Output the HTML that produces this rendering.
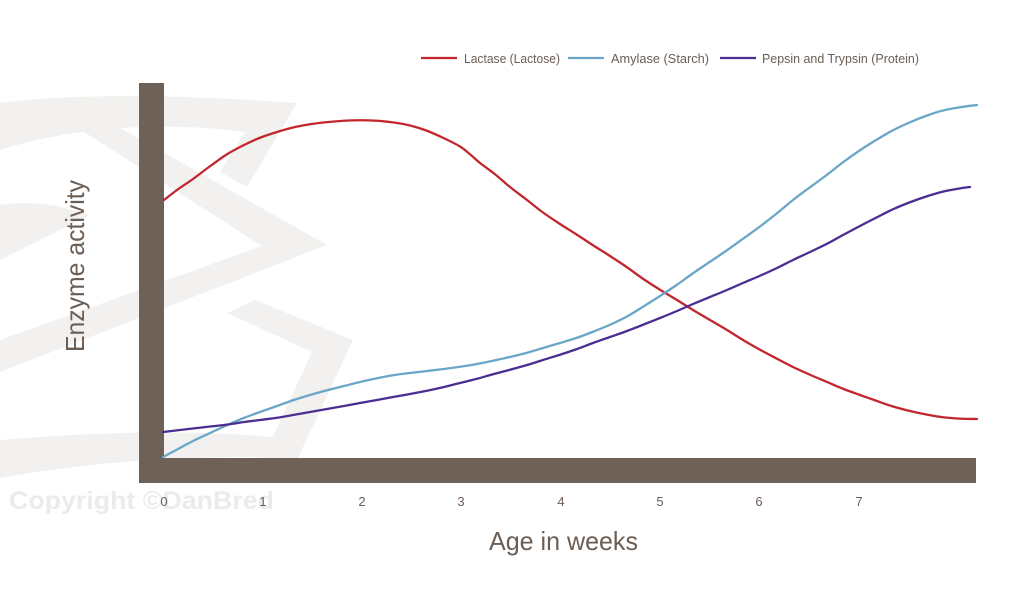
<!DOCTYPE html>
<html>
<head>
<meta charset="utf-8">
<style>
  html,body{margin:0;padding:0;background:#fff;}
  svg{display:block;}
  text{font-family:"Liberation Sans",sans-serif;}
</style>
</head>
<body>
<svg id="chart" width="1024" height="609" viewBox="0 0 1024 609" xmlns="http://www.w3.org/2000/svg">
  <rect width="1024" height="609" fill="#ffffff"/>

  <!-- watermark shapes -->
  <g fill="#f2f1ef">
    <path d="M0,103 C80,92 200,96 297,103 L247,187 L220,172 L245,132 C170,122 80,125 0,150 Z"/>
    <path d="M78,128 L110,122 L327,245 L0,372 L0,340 L262,246 Z"/>
    <path d="M0,205 C30,200 60,205 90,215 L0,260 Z"/>
    <path d="M227,313 L255,300 L353,340 L297,460 L262,460 L312,352 Z"/>
    <path d="M0,440 C100,432 200,428 300,440 L290,458 C200,455 100,460 0,478 Z"/>
  </g>

  <!-- copyright watermark -->
  <text x="9" y="509" font-size="25" font-weight="bold" fill="#ebebeb" textLength="265" lengthAdjust="spacingAndGlyphs">Copyright ©DanBred</text>

  <!-- axes -->
  <rect x="139" y="83" width="25" height="400" fill="#6e6158"/>
  <rect x="139" y="458" width="837" height="25" fill="#6e6158"/>

  <!-- curves -->
  <g id="curves" fill="none" stroke-width="2.3" stroke-linejoin="round" stroke-linecap="round">
    <polyline stroke="#c1272d" points="164,200 177,190 193,180 210,166 227,153 244,145 260,137 277,132 293,127 310,124 327,122 344,120.5 360,120 377,120.5 393,122 410,125 427,130 444,138 460,147 470,154 480,162 495,174 510,187 527,200 543,213 560,224 577,235 593,245 610,256 627,267 643,279 660,290 677,300 693,310 710,320 727,330 743,340 760,350 777,359 793,367 810,375 827,382 843,389 860,395 877,401 893,407 910,411 927,415 943,417.5 960,419 977,419"/>
    <polyline stroke="#6aa6c8" points="163,457 178,449 193,441 210,433 227,425 243,418 260,412 277,406 293,400 310,395 327,390 344,386 360,382 377,378 393,375 410,373 427,371 444,369 460,367 477,364 493,361 510,357 527,353 543,348 560,343 577,338 593,332 610,325 627,317 643,307 660,296 677,285 693,273 710,262 727,250 743,239 760,227 777,213 793,200 810,187 827,175 843,162 860,150 877,139 893,130 910,122 927,115 943,110 960,107 977,105"/>
    <polyline stroke="#4b2e91" points="163,432 195,428.5 227,424 244,422 260,420 277,418 293,415 310,412 327,409 344,406 360,403 377,400 393,397 410,394 427,391 444,387 460,383 477,379 493,374 510,370 527,365 543,360 560,355 577,349 593,343 610,337 627,331 643,325 660,318 677,311 693,304 710,297 727,290 743,283 760,276 777,268 793,260 810,252 827,244 843,235 860,226 877,217 893,209 910,202 927,196 943,191 958,188.5 970,187"/>
  </g>

  <!-- tick labels -->
  <g font-size="13" fill="#6b5e55" text-anchor="middle">
    <text x="164" y="506">0</text>
    <text x="263" y="506">1</text>
    <text x="362" y="506">2</text>
    <text x="461" y="506">3</text>
    <text x="561" y="506">4</text>
    <text x="660" y="506">5</text>
    <text x="759" y="506">6</text>
    <text x="859" y="506">7</text>
  </g>

  <!-- axis titles -->
  <text x="489" y="550" font-size="26" fill="#6b5e55" textLength="149" lengthAdjust="spacingAndGlyphs">Age in weeks</text>
  <text transform="translate(84,352) rotate(-90)" x="0" y="0" font-size="26" fill="#6b5e55" textLength="172" lengthAdjust="spacingAndGlyphs">Enzyme activity</text>

  <!-- legend -->
  <g stroke-width="2.2">
    <line x1="421" y1="58" x2="457" y2="58" stroke="#c1272d"/>
    <line x1="568" y1="58" x2="604" y2="58" stroke="#6aa6c8"/>
    <line x1="720" y1="58" x2="756" y2="58" stroke="#4b2e91"/>
  </g>
  <g font-size="13" fill="#6b5e55">
    <text x="464" y="63" textLength="96" lengthAdjust="spacingAndGlyphs">Lactase (Lactose)</text>
    <text x="611" y="63" textLength="98" lengthAdjust="spacingAndGlyphs">Amylase (Starch)</text>
    <text x="762" y="63" textLength="157" lengthAdjust="spacingAndGlyphs">Pepsin and Trypsin (Protein)</text>
  </g>
</svg>
<script>
(function(){
  try{
    var NS="http://www.w3.org/2000/svg";
    var g=document.getElementById("curves");
    var pls=g.getElementsByTagName("polyline");
    var list=[];
    for(var i=0;i<pls.length;i++) list.push(pls[i]);
    list.forEach(function(pl){
      var raw=pl.getAttribute("points").trim().split(/\s+/).map(function(s){var a=s.split(",");return [parseFloat(a[0]),parseFloat(a[1])];});
      /* light smoothing of y values */
      var p=raw.map(function(pt,idx){
        if(idx===0||idx===raw.length-1) return pt;
        return [pt[0], (raw[idx-1][1]+2*pt[1]+raw[idx+1][1])/4];
      });
      var d="M"+p[0][0]+","+p[0][1];
      for(var k=0;k<p.length-1;k++){
        var p0=p[k-1]||p[k], p1=p[k], p2=p[k+1], p3=p[k+2]||p[k+1];
        var c1x=p1[0]+(p2[0]-p0[0])/6, c1y=p1[1]+(p2[1]-p0[1])/6;
        var c2x=p2[0]-(p3[0]-p1[0])/6, c2y=p2[1]-(p3[1]-p1[1])/6;
        d+=" C"+c1x.toFixed(2)+","+c1y.toFixed(2)+" "+c2x.toFixed(2)+","+c2y.toFixed(2)+" "+p2[0]+","+p2[1];
      }
      var path=document.createElementNS(NS,"path");
      path.setAttribute("d",d);
      path.setAttribute("stroke",pl.getAttribute("stroke"));
      g.insertBefore(path,pl);
      g.removeChild(pl);
    });
  }catch(e){}
})();
</script>
</body>
</html>
